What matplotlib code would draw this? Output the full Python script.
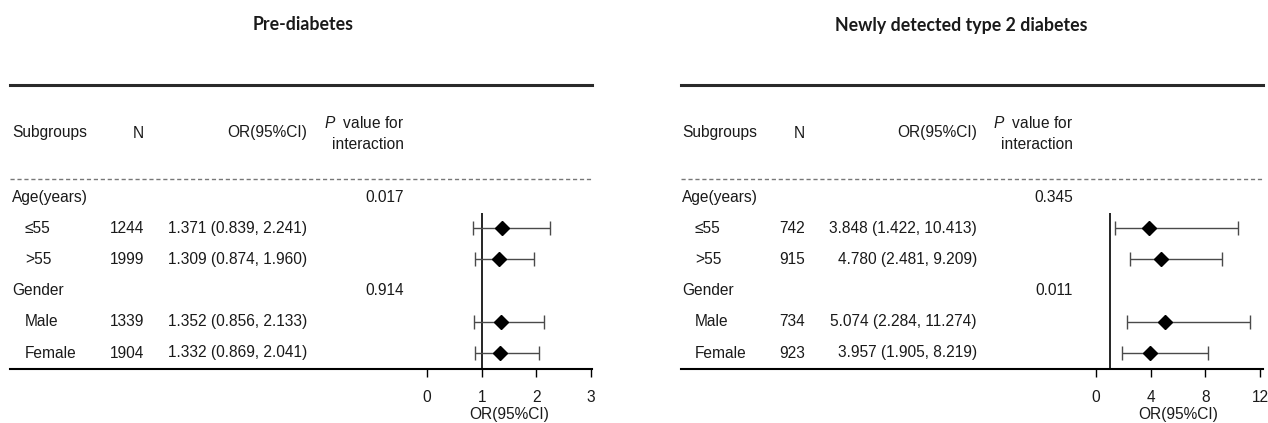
import matplotlib
matplotlib.use('Agg')
import matplotlib.pyplot as plt
from matplotlib.transforms import blended_transform_factory

plt.rcParams['font.family'] = ['Liberation Sans', 'DejaVu Sans']
plt.rcParams['mathtext.fontset'] = 'custom'
plt.rcParams['mathtext.it'] = 'Liberation Sans:italic'
plt.rcParams['mathtext.rm'] = 'Liberation Sans'
plt.rcParams['lines.scale_dashes'] = False

# ---------------- data ----------------
row_labels = ['Age(years)', '≤55', '>55', 'Gender', 'Male', 'Female']
row_is_group = [True, False, False, True, False, False]

pre_title = 'Pre-diabetes'
pre_n = [None, 1244, 1999, None, 1339, 1904]
pre_or = [None, 1.371, 1.309, None, 1.352, 1.332]
pre_lo = [None, 0.839, 0.874, None, 0.856, 0.869]
pre_hi = [None, 2.241, 1.960, None, 2.133, 2.041]
pre_p = ['0.017', None, None, '0.914', None, None]
pre_ticks = [0, 1, 2, 3]

t2d_title = 'Newly detected type 2 diabetes'
t2d_n = [None, 742, 915, None, 734, 923]
t2d_or = [None, 3.848, 4.780, None, 5.074, 3.957]
t2d_lo = [None, 1.422, 2.481, None, 2.284, 1.905]
t2d_hi = [None, 10.413, 9.209, None, 11.274, 8.219]
t2d_p = ['0.345', None, None, '0.011', None, None]
t2d_ticks = [0, 4, 8, 12]

header_sub = 'Subgroups'
header_n = 'N'
header_or = 'OR(95%CI)'
header_p = '$\\it{P}$  value for\ninteraction'
xlabel = 'OR(95%CI)'

# ---------------- layout (pixels) ----------------
W, H = 1268, 423
TOP_PX, BOT_PX = 85, 369
ROW0_PX, ROW_STEP = 197, 31.2
TXT = '#1a1a1a'
FS = 11.2

fig = plt.figure(figsize=(W / 100, H / 100), dpi=100)


def ypix(p):
    return (p - ROW0_PX) / ROW_STEP


def panel(x0, x1, tick0_px, tickN_px, ticks, cols, title, title_cx,
          n, orv, lo, hi, pv):
    ax = fig.add_axes([x0 / W, (H - BOT_PX) / H, (x1 - x0) / W, (BOT_PX - TOP_PX) / H])
    ppu = (tickN_px - tick0_px) / (ticks[-1] - ticks[0])
    ax.set_xlim(ticks[0] - (tick0_px - x0) / ppu, ticks[0] + (x1 - tick0_px) / ppu)
    ax.set_ylim(ypix(BOT_PX), ypix(TOP_PX))
    for s in ['left', 'right']:
        ax.spines[s].set_visible(False)
    ax.spines['top'].set_linewidth(2.2)
    ax.spines['top'].set_color('#2a2a2a')
    ax.spines['bottom'].set_linewidth(1.5)
    ax.spines['bottom'].set_color('black')
    ax.set_yticks([])
    ax.set_xticks(ticks)
    ax.set_xticklabels([str(t) for t in ticks])
    ax.tick_params(axis='x', direction='out', length=5.8, width=1.0,
                   pad=9, labelsize=FS, labelcolor=TXT)
    ax.set_xlabel(xlabel, fontsize=FS, color=TXT, va='center')
    lab_cx = ((tick0_px + tickN_px) / 2 - x0) / (x1 - x0)
    ax.xaxis.set_label_coords(lab_cx, (BOT_PX - 414) / (BOT_PX - TOP_PX))

    tr = blended_transform_factory(ax.transAxes, ax.transData)

    def fx(px):
        return (px - x0) / (x1 - x0)

    # header
    yh = ypix(133)
    ax.text(fx(cols['label']), yh, header_sub, transform=tr, ha='left', va='center', fontsize=FS, color=TXT)
    ax.text(fx(cols['n']), yh, header_n, transform=tr, ha='right', va='center', fontsize=FS, color=TXT)
    ax.text(fx(cols['or']), yh, header_or, transform=tr, ha='right', va='center', fontsize=FS, color=TXT)
    ax.text(fx(cols['p']), ypix(133.5), header_p, transform=tr, ha='right', va='center',
            multialignment='right', fontsize=FS, color=TXT, linespacing=1.45)

    ax.axhline(ypix(179), color='#777777', lw=1.0, ls=(0, (3, 2)))

    for i, lab in enumerate(row_labels):
        xl = cols['label'] if row_is_group[i] else cols['indent']
        ax.text(fx(xl), i, lab, transform=tr, ha='left', va='center', fontsize=FS, color=TXT)
        if n[i] is not None:
            ax.text(fx(cols['n']), i, str(n[i]), transform=tr, ha='right', va='center', fontsize=FS, color=TXT)
            ax.text(fx(cols['or']), i, f'{orv[i]:.3f} ({lo[i]:.3f}, {hi[i]:.3f})', transform=tr,
                    ha='right', va='center', fontsize=FS, color=TXT)
        if pv[i] is not None:
            ax.text(fx(cols['p']), i, pv[i], transform=tr, ha='right', va='center', fontsize=FS, color=TXT)

    idx = [i for i in range(len(row_labels)) if orv[i] is not None]
    o = [orv[i] for i in idx]
    el = [orv[i] - lo[i] for i in idx]
    eh = [hi[i] - orv[i] for i in idx]
    ax.vlines(1, 0.5, ypix(BOT_PX), color='black', lw=1.2, clip_on=False)
    ax.errorbar(o, idx, xerr=[el, eh], fmt='none', ecolor='#4a4a4a', elinewidth=1.0,
                capsize=4.7, capthick=1.0, zorder=3)
    ax.plot(o, idx, 'D', color='black', ms=7, zorder=4, ls='none')

    fig.text(title_cx / W, 1 - 25 / H, title, ha='center', va='center',
             fontfamily='Lato', fontweight='bold', fontsize=12.8, color=TXT)
    return ax


panel(10, 592, 427, 591, pre_ticks,
      {'label': 12, 'indent': 25, 'n': 144, 'or': 307, 'p': 404},
      pre_title, 303, pre_n, pre_or, pre_lo, pre_hi, pre_p)

panel(681, 1262.5, 1096, 1260, t2d_ticks,
      {'label': 682, 'indent': 695, 'n': 805, 'or': 977, 'p': 1073},
      t2d_title, 961, t2d_n, t2d_or, t2d_lo, t2d_hi, t2d_p)

fig.savefig('out.png', dpi=100)
